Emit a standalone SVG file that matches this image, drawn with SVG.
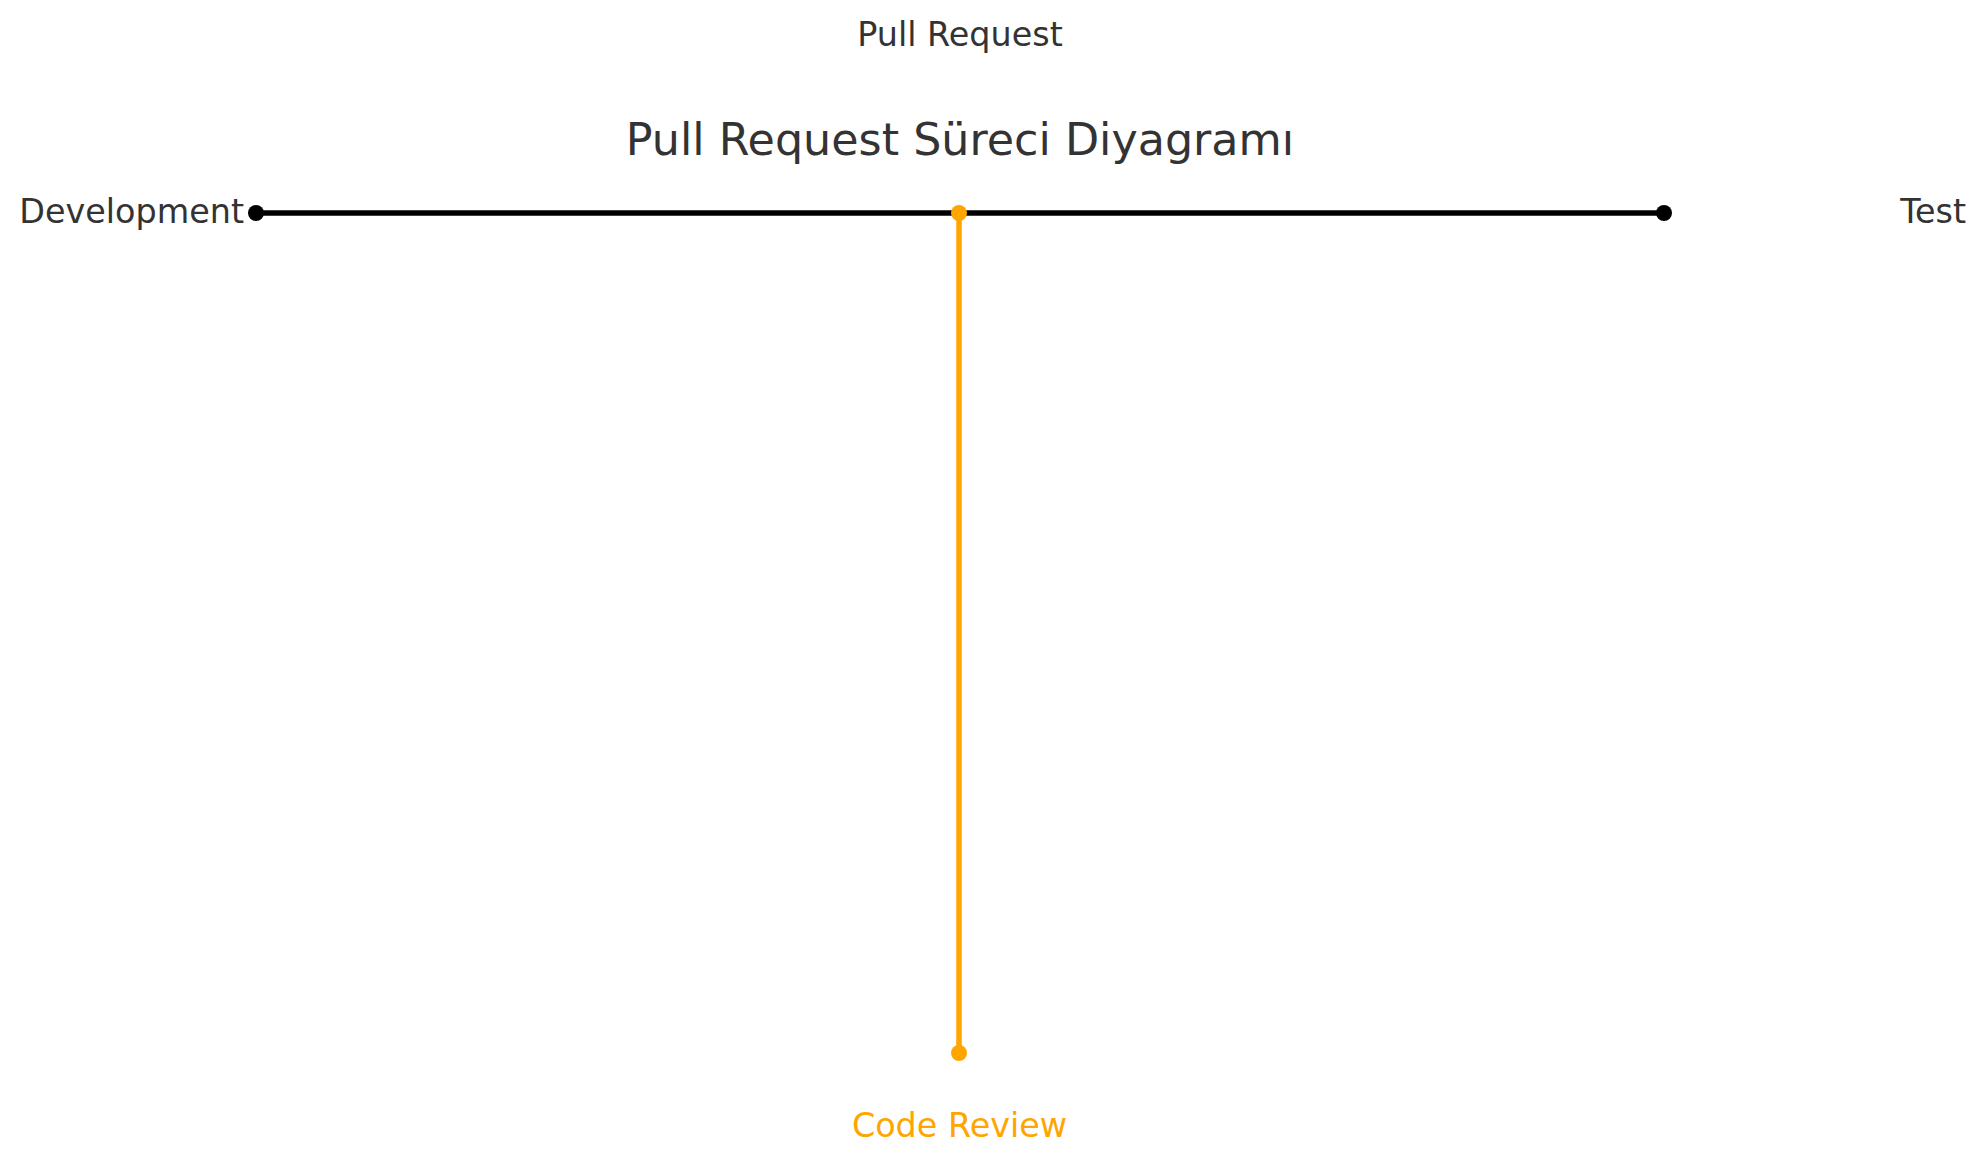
<svg xmlns="http://www.w3.org/2000/svg" width="1984" height="1164" viewBox="0 0 1984 1164">
<style>
text { font-family: "DejaVu Sans", "Liberation Sans", sans-serif; fill: #333333; }
.lbl { font-size: 33.4px; }
.title { font-size: 44.4px; }
.orange { fill: #FFA500; }
.blk { stroke: #000000; stroke-width: 5.5; fill: none; }
.org { stroke: #FFA500; stroke-width: 5.5; fill: none; }
</style>
<rect x="0" y="0" width="1984" height="1164" fill="#ffffff"/>
<text id="title" class="title" x="960" y="155" text-anchor="middle">Pull Request Süreci Diyagramı</text>
<g id="connectors">
  <line class="blk" x1="256" y1="213" x2="1664" y2="213"/>
  <line class="org" x1="959" y1="213" x2="959" y2="1053"/>
</g>
<g id="development">
  <circle cx="256" cy="213" r="8" fill="#000000"/>
  <text class="lbl" x="244" y="223" text-anchor="end">Development</text>
</g>
<g id="test">
  <circle cx="1664" cy="213" r="8" fill="#000000"/>
  <text class="lbl" x="1966" y="223" text-anchor="end">Test</text>
</g>
<g id="pull-request">
  <circle cx="959" cy="213" r="8" fill="#FFA500"/>
  <text class="lbl" x="960" y="46" text-anchor="middle">Pull Request</text>
</g>
<g id="code-review">
  <circle cx="959" cy="1053" r="8" fill="#FFA500"/>
  <text class="lbl orange" x="959.5" y="1137" text-anchor="middle">Code Review</text>
</g>
</svg>
